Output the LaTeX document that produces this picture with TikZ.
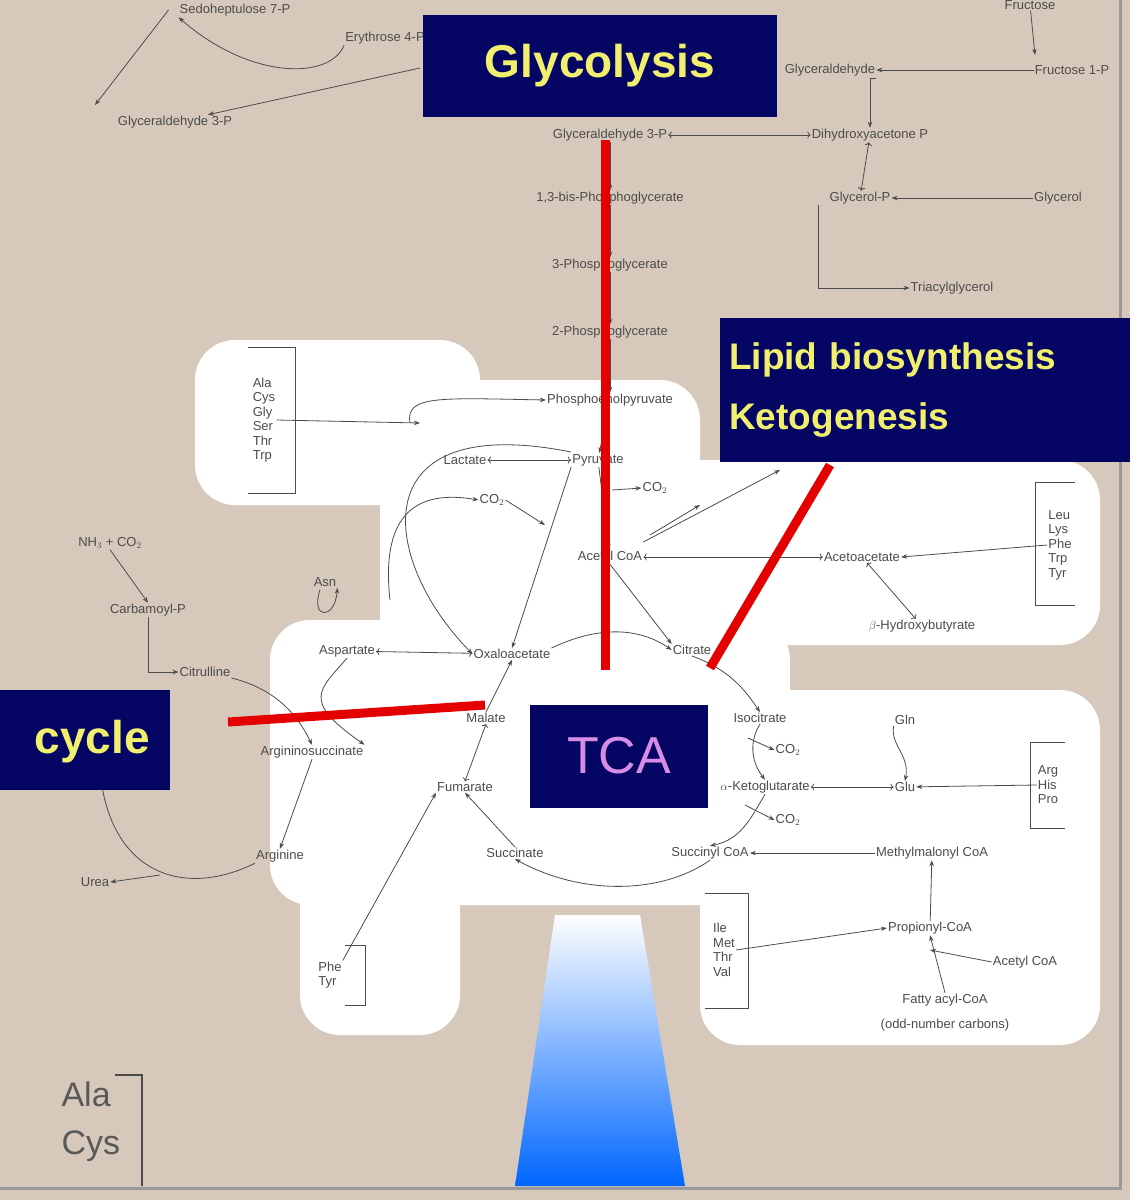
\documentclass[tikz,border=0pt]{standalone}
\usepackage{fontspec}
\setmainfont{Liberation Sans}
\usetikzlibrary{arrows.meta,shadings}
\definecolor{tan}{RGB}{214,201,187}
\definecolor{navy}{RGB}{5,5,100}
\definecolor{ylw}{RGB}{240,240,110}
\definecolor{tcav}{RGB}{215,140,230}
\begin{document}
\begin{tikzpicture}[x=1pt,y=-1pt,
 lab/.style={font=\fontsize{13}{14}\selectfont,text=black!70,inner sep=1pt},
 lst/.style={font=\fontsize{13}{14.5}\selectfont,text=black!70,align=left,inner sep=1pt},
 ar/.style={-{Stealth[length=6pt]},black!70,line width=0.8pt},
 ln/.style={black!70,line width=0.8pt},
 box/.style={fill=navy,text=ylw,font=\fontsize{46}{50}\selectfont\bfseries,inner sep=0pt},
 red/.style={red!90!black,line width=9pt},
 blob/.style={fill=white,rounded corners=40pt}]
\useasboundingbox (0,0) rectangle (1130,1200);
\fill[tan] (0,0) rectangle (1130,1200);
% white regions
\fill[blob] (195,340) rectangle (480,505);
\fill[blob] (380,380) rectangle (700,660);
\fill[blob] (640,460) rectangle (1100,645);
\fill[blob] (270,620) rectangle (790,905);
\fill[blob] (700,690) rectangle (1100,1045);
\fill[blob] (300,860) rectangle (460,1035);
% blue gradient
\shade[top color=white,bottom color=blue!60!cyan] (555,915) -- (640,915) -- (685,1186) -- (515,1186) -- cycle;
\draw[black!40,line width=3pt] (1120,0) -- (1120,1188) -- (0,1188);
% labels
\foreach \nm/\x/\y/\t in {
 sed/235/10/Sedoheptulose 7-P, ery/385/38/Erythrose 4-P, gap0/175/122/Glyceraldehyde 3-P,
 fru/1030/5/Fructose, gal/830/70/Glyceraldehyde, f1p/1072/70/Fructose 1-P,
 gap/610/135/Glyceraldehyde 3-P, dhap/870/135/Dihydroxyacetone P,
 bpg/610/198/{1,3-bis-Phosphoglycerate}, glp/860/198/Glycerol-P, gly/1058/198/Glycerol,
 pg3/610/265/3-Phosphoglycerate, tag/952/288/Triacylglycerol, pg2/610/332/2-Phosphoglycerate,
 pep/610/400/Phosphoenolpyruvate, lac/465/460/Lactate, pyr/598/460/Pyruvate,
 co2a/655/488/CO$_2$, co2b/492/500/CO$_2$, aca/610/557/Acetyl CoA, acac/862/557/Acetoacetate,
 hb/922/626/$\beta$-Hydroxybutyrate, asp/347/651/Aspartate, oaa/512/654/Oxaloacetate,
 cit/692/650/Citrate, icit/760/718/Isocitrate, mal/486/718/Malate, co2c/788/750/CO$_2$,
 fum/465/787/Fumarate, akg/765/787/$\alpha$-Ketoglutarate, glu/905/787/Glu, gln/905/720/Gln,
 co2d/788/820/CO$_2$, suc/515/853/Succinate, scoa/710/853/Succinyl CoA, mmc/932/853/Methylmalonyl CoA,
 prop/930/928/Propionyl-CoA, acb/1025/962/Acetyl CoA, fac/945/1000/Fatty acyl-CoA,
 odd/945/1025/(odd-number carbons), nh/110/543/{NH$_3$ + CO$_2$}, cp/148/610/Carbamoyl-P,
 ctl/205/672/Citrulline, asn/325/582/Asn, asu/312/752/Argininosuccinate, arg/280/856/Arginine,
 urea/95/882/Urea}
 \node[lab] (\nm) at (\x,\y) {\t};
\node[lst] (l1) at (264,420) {Ala\\Cys\\Gly\\Ser\\Thr\\Trp};
\node[lst] (l2) at (1060,545) {Leu\\Lys\\Phe\\Trp\\Tyr};
\node[lst] (l3) at (1048,785) {Arg\\His\\Pro};
\node[lst] (l4) at (724,950) {Ile\\Met\\Thr\\Val};
\node[lst] (l5) at (330,975) {Phe\\Tyr};
\node[font=\fontsize{34}{48}\selectfont,text=black!65,align=left,anchor=north west] (l6) at (58,1078) {Ala\\Cys};
% brackets
\draw[ln] (248,347)--(295,347)--(295,493)--(248,493);
\draw[ln] (1075,482)--(1035,482)--(1035,605)--(1075,605);
\draw[ln] (1065,742)--(1030,742)--(1030,828)--(1065,828);
\draw[ln] (705,893)--(748,893)--(748,1008)--(705,1008);
\draw[ln] (345,945)--(365,945)--(365,1005)--(345,1005);
\draw[ln,line width=1.5pt] (115,1075)--(142,1075)--(142,1186);
% arrows glycolysis
\draw[ar] (gap)--(bpg); \draw[ar] (bpg)--(pg3); \draw[ar] (pg3)--(pg2); \draw[ar] (pg2)--(pep);
\draw[ar] (pep)--(pyr); \draw[ar] (pyr)--(aca);
\draw[ar,<->] (gap)--(dhap); \draw[ar,<->] (dhap)--(glp); \draw[ar] (gly)--(glp);
\draw[ar] (glp.south west) ++(-10,0) |- (tag); \draw[ar] (fru)--(1035,55);
\draw[ar] (f1p)--(gal); \draw[ar] (gal.east) ++(0,8) -| (dhap.north);
\draw[ar] (sed.west) ++(-10,0) -- (95,105); \draw[ar] (420,68)--(gap0);
\draw[ar] (ery.south west) .. controls (330,80) and (250,80) .. (sed.south west);
\draw[ar,<->] (lac)--(pyr);
\draw[ar] (l1.east)--(420,423);
\draw[ar] (410,423) .. controls (405,395) and (440,398) .. (pep.west);
\draw[ar] (pyr.south west) -- (oaa.north);
\draw[ar] (pyr.west) ++(0,-8) .. controls (360,410) and (380,560) .. (oaa.west);
\draw[ar] (390,600) .. controls (380,510) and (420,490) .. (co2b.west);
\draw[ar] (co2b.east)--(545,525);
\draw[ar] (612,490)--(co2a.west);
\draw[ar,<->] (aca)--(acac); \draw[ar] (l2.west)--(acac.east);
\draw[ar] (aca.east) ++(0,-15) -- (780,470); \draw[ar] (650,535)--(700,505);
\draw[ar,<->] (acac)--(hb);
% TCA cycle
\draw[ar] (oaa.north east) .. controls (600,625) and (640,628) .. (cit.west);
\draw[ar] (cit.south) .. controls (730,670) and (745,690) .. (icit.north);
\draw[ar] (icit.south) .. controls (750,740) and (750,760) .. (akg.north);
\draw[ar] (akg.south) .. controls (750,820) and (740,840) .. (scoa.north);
\draw[ar] (scoa.south) .. controls (660,895) and (580,895) .. (suc.south);
\draw[ar] (suc.north) -- (fum.south);
\draw[ar,<->] (fum.north)--(mal.south);
\draw[ar] (mal.north) -- (oaa.south);
\draw[ar] (aca.south)--(cit.north west);
\draw[ar] (748,738)--(co2c.west); \draw[ar] (745,805)--(co2d.west);
\draw[ar,<->] (asp)--(oaa); \draw[ar,<->] (akg)--(glu); \draw[ar] (l3.west)--(glu);
\draw[ar] (gln.south west) .. controls (890,745) and (910,755) .. (glu.north);
\draw[ar] (mmc)--(scoa); \draw[ar] (prop)--(mmc);
\draw[ar] (l4.east)--(prop.west); \draw[ar] (acb.west)--(930,950);
\draw[ar] (fac.north)--(prop.south);
\draw[ar] (l5.north east)--(fum.south west);
\draw[ar] (asn.south) ++(-5,2) .. controls (310,620) and (335,620) .. (asn.south east);
% urea cycle
\draw[ar] (nh.south)--(cp.north);
\draw[ar] (cp.south) |- (ctl.west);
\draw[ar] (ctl.south east) .. controls (280,690) and (300,720) .. (asu.north);
\draw[ar] (asp.south) .. controls (320,690) and (300,700) .. (asu.north east);
\draw[ar] (asu.south) -- (arg.north);
\draw[ar] (arg.south west) .. controls (180,900) and (110,870) .. (100,770);
\draw[ar] (160,875)--(urea.east);
% red lines
\draw[red] (605,140)--(605,670);
\draw[red] (830,465)--(710,668);
\draw[red] (228,722)--(485,705);
% boxes
\node[box,minimum width=354pt,minimum height=102pt] (glyb) at (600,66) {Glycolysis};
\node[box,anchor=north west,minimum width=410pt,minimum height=144pt,align=left,font=\fontsize{37}{60}\selectfont\bfseries,text width=392pt] (lip) at (720,318) {Lipid biosynthesis\\Ketogenesis};
\node[box,anchor=north east,minimum width=170pt,minimum height=100pt] (ucb) at (170,690) {};
\node[text=ylw,font=\fontsize{46}{50}\selectfont\bfseries,anchor=east,inner sep=0pt] (uct) at (150,742) {cycle};
\node[box,text=tcav,minimum width=178pt,minimum height=103pt,font=\fontsize{52}{56}\selectfont] (tca) at (619,756) {TCA};
\end{tikzpicture}
\end{document}
